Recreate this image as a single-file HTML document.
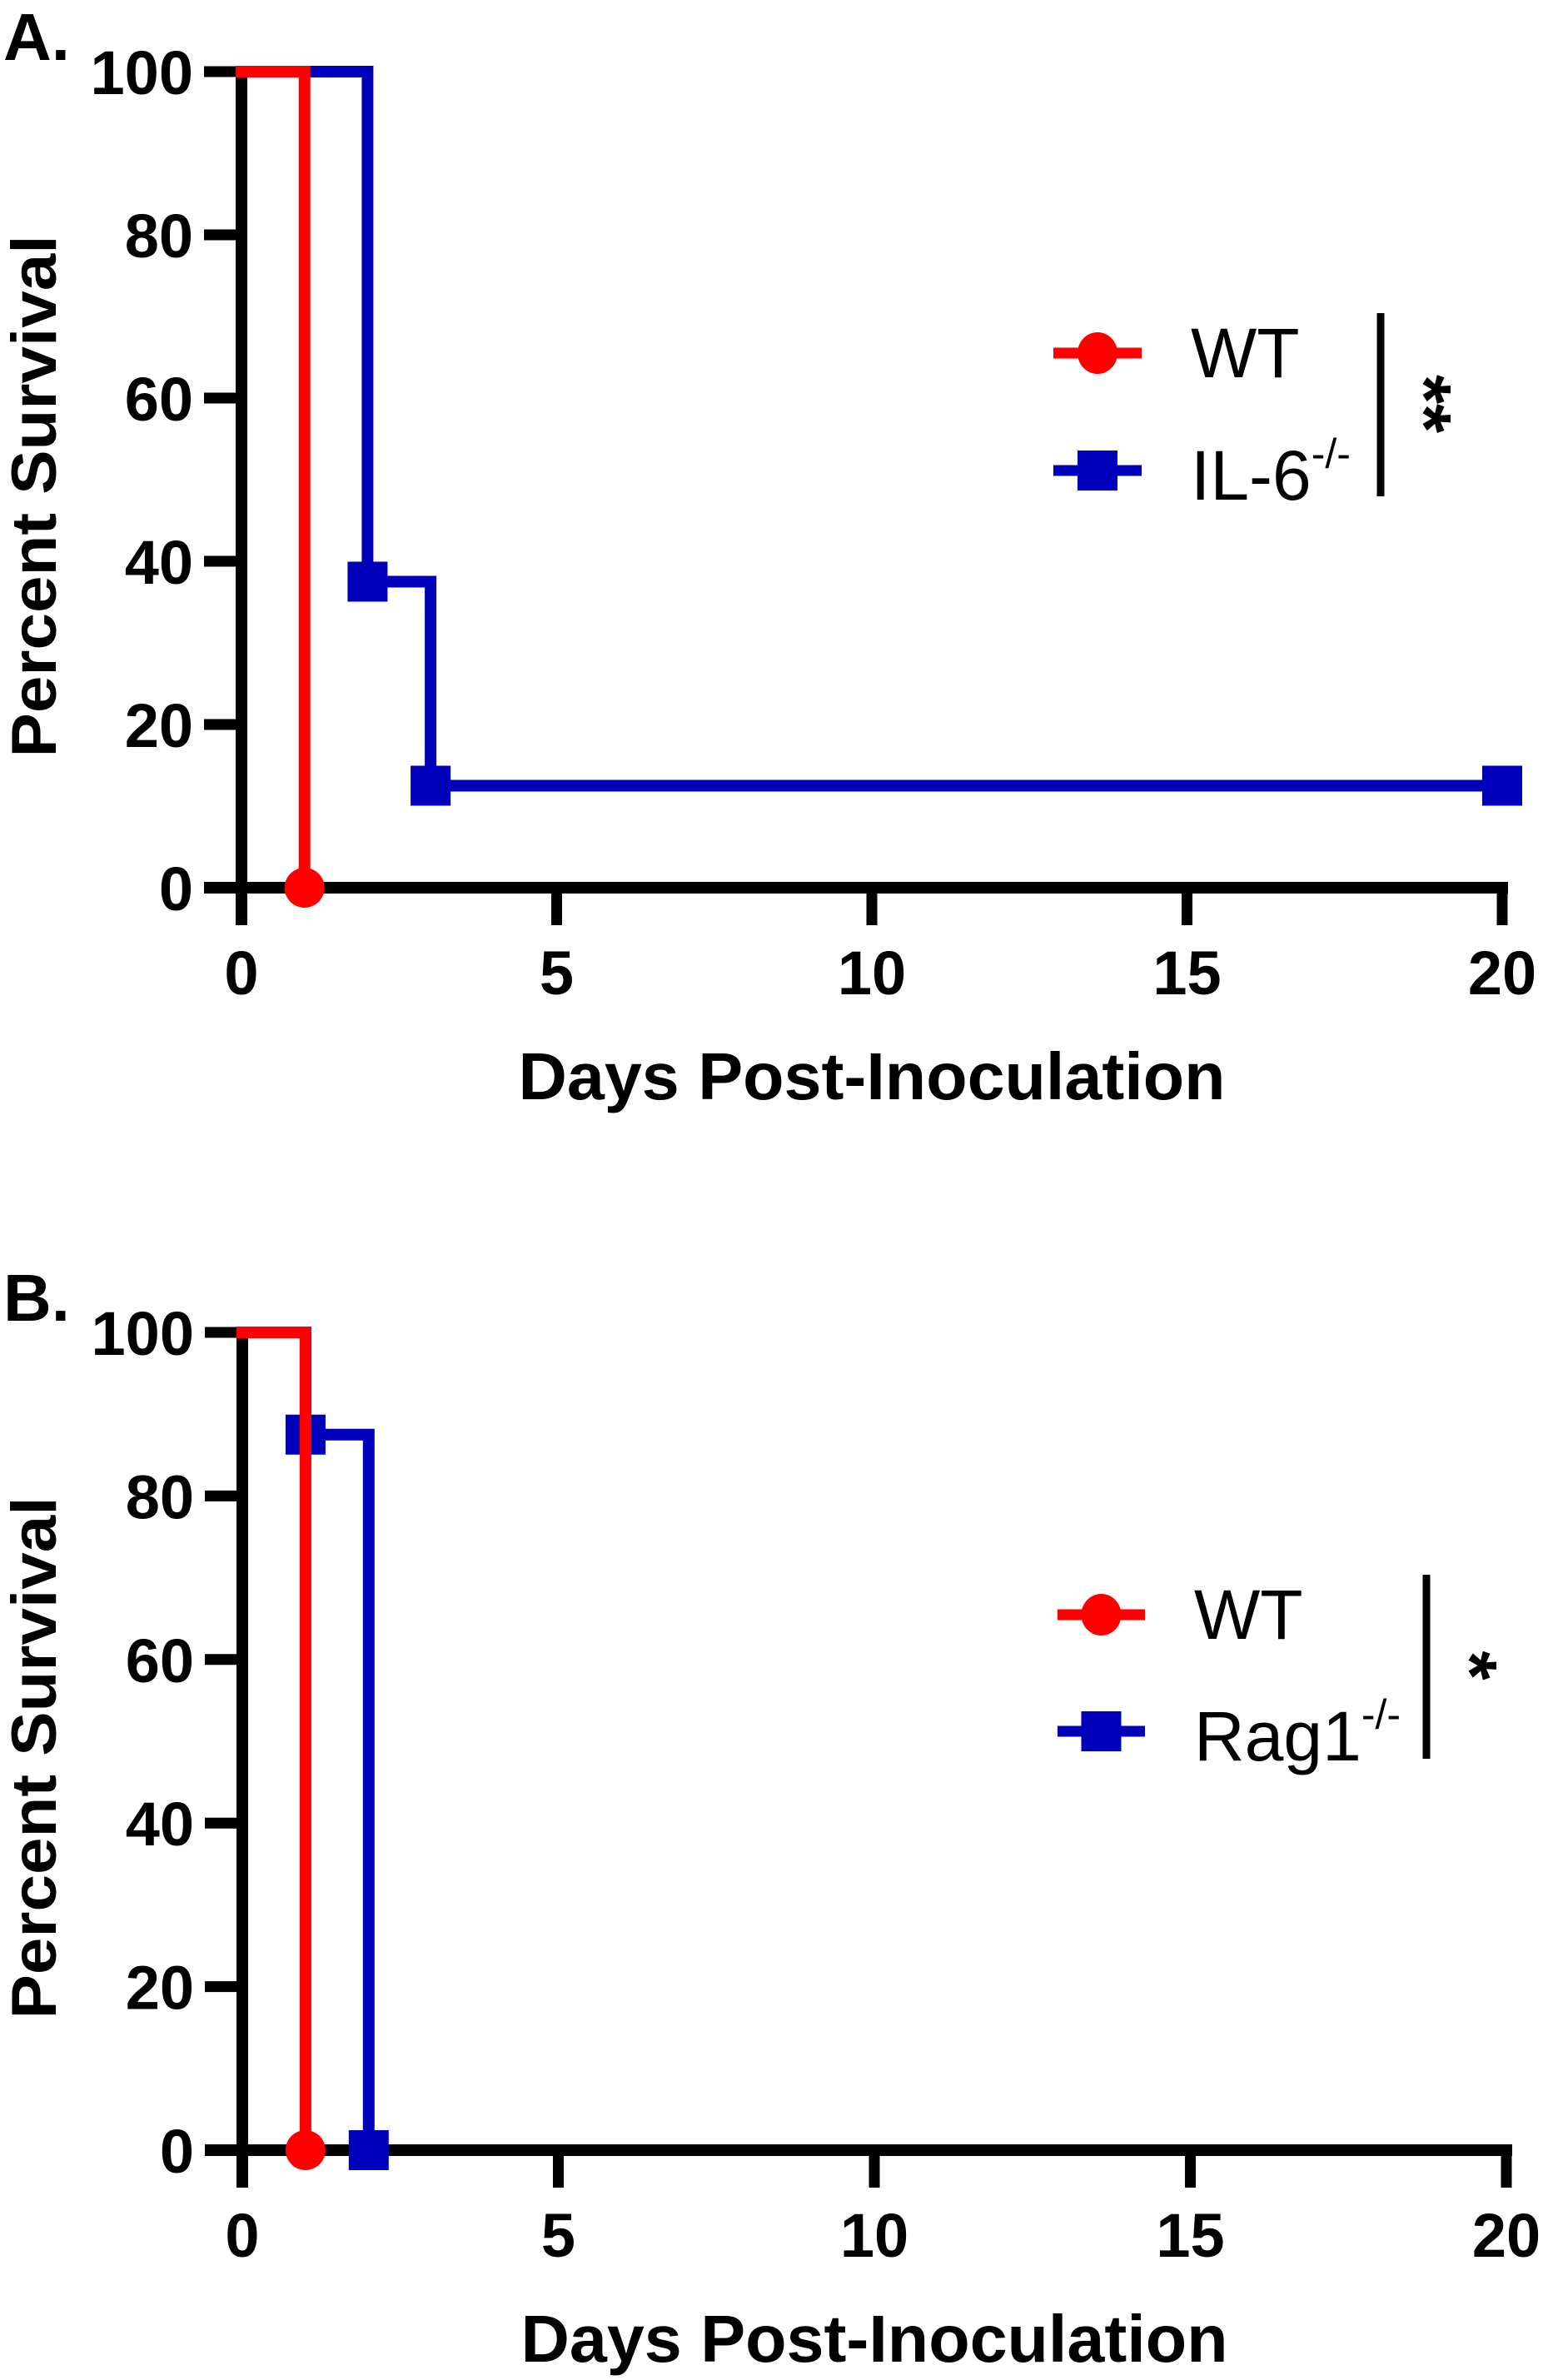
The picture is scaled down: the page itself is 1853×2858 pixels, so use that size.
<!DOCTYPE html>
<html><head><meta charset="utf-8"><style>
html,body{margin:0;padding:0;background:#fff;}
svg{display:block;}
text{font-family:"Liberation Sans",Arial,sans-serif;}
</style></head><body>
<svg id="fig" width="1853" height="2858" viewBox="0 0 1853 2858" xmlns="http://www.w3.org/2000/svg"></svg>
<script>
// ---- data ----
const xTicks = [0, 5, 10, 15, 20];
const yTicks = [0, 20, 40, 60, 80, 100];
const aWtDays = [0, 1];
const aWtSurv = [100, 0];
const aKoDays = [0, 2, 3, 20];
const aKoSurv = [100, 37.5, 12.5, 12.5];
const bWtDays = [0, 1];
const bWtSurv = [100, 0];
const bKoDays = [0, 1, 2];
const bKoSurv = [100, 87.5, 0];

const NS = "http://www.w3.org/2000/svg";
const svg = document.getElementById('fig');
function mk(tag, attrs, parent) {
  const e = document.createElementNS(NS, tag);
  for (const k in attrs) e.setAttribute(k, attrs[k]);
  (parent || svg).appendChild(e);
  return e;
}
const RED = '#ff0000', BLUE = '#0000bb';

function panel(cfg) {
  const g = mk('g', {});
  
  
  const X = d => cfg.x0 + (d / 20) * (cfg.x20 - cfg.x0);
  const Y = v => cfg.y0 + (v / 100) * (cfg.y100 - cfg.y0);

  const lt = mk('text', {x: 4, y: cfg.y100 - 14, 'font-size': 80, 'font-weight': 'bold'}, g);
  lt.textContent = cfg.letter;
  
  

  function series(days, surv, color, marker, nm) {
    let d = 'M' + X(days[0]) + ' ' + Y(surv[0]);
    for (let i = 1; i < days.length; i++) {
      d += ' H' + X(days[i]) + ' V' + Y(surv[i]);
    }
    const p = mk('path', {d: d, fill: 'none', stroke: color, 'stroke-width': 14, 'stroke-linejoin': 'miter', 'stroke-linecap': 'square'}, g);
    
    
    for (let i = 1; i < days.length; i++) {
      let m;
      if (marker === 'circle') {
        m = mk('ellipse', {cx: X(days[i]), cy: Y(surv[i]), rx: 24, ry: 24, fill: color}, g);
      } else {
        m = mk('rect', {x: X(days[i]) - 24, y: Y(surv[i]) - 24, width: 48, height: 48, fill: color}, g);
      }
      
      
    }
  }

  const ya = mk('line', {x1: cfg.x0, y1: cfg.y100 - 7, x2: cfg.x0, y2: cfg.y0 + 45, stroke: '#000', 'stroke-width': 14}, g);
  
  
  const xa = mk('line', {x1: cfg.x0 - 45, y1: cfg.y0, x2: cfg.x20 + 7, y2: cfg.y0, stroke: '#000', 'stroke-width': 14}, g);
  
  

  yTicks.forEach(v => {
    const t = mk('line', {x1: cfg.x0 - 45, y1: Y(v), x2: cfg.x0, y2: Y(v), stroke: '#000', 'stroke-width': 13}, g);
    
    
    const l = mk('text', {x: cfg.x0 - 58, y: Y(v) + 27, 'font-size': 74, 'font-weight': 'bold', 'text-anchor': 'end'}, g);
    l.textContent = v;
    
    
  });
  xTicks.forEach(v => {
    const t = mk('line', {x1: X(v), y1: cfg.y0, x2: X(v), y2: cfg.y0 + 45, stroke: '#000', 'stroke-width': 13}, g);
    
    
    const l = mk('text', {x: X(v), y: cfg.y0 + 128, 'font-size': 74, 'font-weight': 'bold', 'text-anchor': 'middle'}, g);
    l.textContent = v;
    
    
  });

  series(cfg.koD, cfg.koS, BLUE, 'square', 'knockout');
  series(cfg.wtD, cfg.wtS, RED, 'circle', 'wt');

  const xt = mk('text', {x: (cfg.x0 + cfg.x20) / 2, y: cfg.y0 + 254, 'font-size': 80, 'font-weight': 'bold', 'text-anchor': 'middle', textLength: 849, lengthAdjust: 'spacingAndGlyphs'}, g);
  xt.textContent = 'Days Post-Inoculation';
  
  
  const cy = (cfg.y0 + cfg.y100) / 2 + 20;
  const yt = mk('text', {x: 0, y: 0, 'font-size': 76, 'font-weight': 'bold', 'text-anchor': 'middle', transform: 'translate(67,' + cy + ') rotate(-90)', textLength: 627, lengthAdjust: 'spacingAndGlyphs'}, g);
  yt.textContent = 'Percent Survival';
  
  

  const L = cfg.leg;
  [[L.y1, RED, 'circle', 'WT', ''], [L.y2, BLUE, 'square', cfg.koName, '-/-']].forEach((r, i) => {
    const lg = mk('g', {}, g);
    
    
    mk('line', {x1: L.x1, y1: r[0], x2: L.x2, y2: r[0], stroke: r[1], 'stroke-width': 13}, lg);
    const mx = (L.x1 + L.x2) / 2;
    if (r[2] === 'circle') mk('ellipse', {cx: mx, cy: r[0], rx: 24, ry: 25, fill: r[1]}, lg);
    else mk('rect', {x: mx - 24, y: r[0] - 24, width: 48, height: 48, fill: r[1]}, lg);
    const t = mk('text', {x: L.tx, y: r[0] + 29 + (i ? 6 : 0), 'font-size': 84}, lg);
    t.textContent = r[3];
    if (r[4]) {
      const s = mk('tspan', {'font-size': 50, dy: -38}, t);
      s.textContent = r[4];
    }
  });
  const br = mk('line', {x1: L.bx, y1: L.by1, x2: L.bx, y2: L.by2, stroke: '#000', 'stroke-width': 9}, g);
  
  
  const st = mk('text', {x: 0, y: 0, 'font-size': 90, 'font-weight': 'bold', 'text-anchor': 'middle', transform: 'translate(' + L.sx + ',' + L.sy + ') rotate(90)'}, g);
  st.textContent = cfg.stars;
  
  
}

panel({name: 'panel-a', letter: 'A.', x0: 290, x20: 1804, y100: 86, y0: 1066,
  wtD: aWtDays, wtS: aWtSurv, koD: aKoDays, koS: aKoSurv, koName: 'IL-6', stars: '**',
  leg: {x1: 1265, x2: 1371, y1: 424, y2: 565, tx: 1430, bx: 1658, by1: 376, by2: 596, sx: 1680, sy: 485}});
panel({name: 'panel-b', letter: 'B.', x0: 291, x20: 1809, y100: 1600, y0: 2582,
  wtD: bWtDays, wtS: bWtSurv, koD: bKoDays, koS: bKoSurv, koName: 'Rag1', stars: '*',
  leg: {x1: 1270, x2: 1375, y1: 1939, y2: 2079, tx: 1434, bx: 1713, by1: 1891, by2: 2112, sx: 1735, sy: 2000}});
</script>
</body></html>
